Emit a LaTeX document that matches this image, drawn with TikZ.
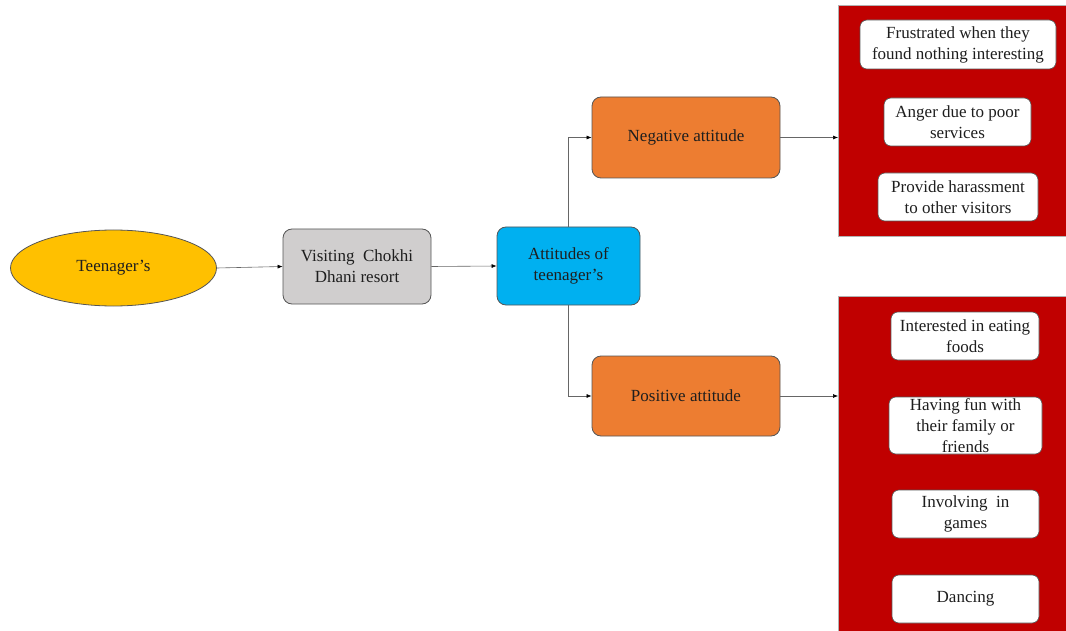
\documentclass[tikz,border=0pt]{standalone}
\usepackage{fontspec}
\setmainfont{Liberation Serif}
\usetikzlibrary{arrows.meta,shapes.geometric}
\definecolor{gold}{HTML}{FFC000}
\definecolor{greybox}{HTML}{D0CECE}
\definecolor{cyanbox}{HTML}{00B0F0}
\definecolor{orangebox}{HTML}{ED7D31}
\definecolor{darkred}{HTML}{C00000}
\definecolor{edge}{HTML}{555555}
\definecolor{txt}{HTML}{1E1E1E}
\begin{document}
\begin{tikzpicture}[x=1pt,y=-1pt,
  every node/.style={font=\fontsize{17}{21}\selectfont, text=txt, align=center, inner sep=0pt},
  rbox/.style={draw=edge, line width=0.8pt, rounded corners=9pt, minimum width=#1},
  wbox/.style={draw=edge, fill=white, line width=0.6pt, rounded corners=7pt},
  conn/.style={draw=gray!80!black, line width=0.6pt, -{Latex[length=5pt,width=4pt,color=black]}}
]
\useasboundingbox (0,0) rectangle (1066,631);
% red panels
\node[fill=darkred, draw=gray!60, line width=0.5pt, minimum width=228pt, minimum height=231pt, anchor=north west] (p1) at (838,5) {};
\node[fill=darkred, draw=gray!60, line width=0.5pt, minimum width=230pt, minimum height=340pt, anchor=north west] (p2) at (838,296) {};
% main nodes
\node[ellipse, draw=edge, fill=gold, line width=0.8pt, minimum width=206pt, minimum height=76pt] (teen) at (113.5,268) {Teenager's};
\node[rbox=148pt, fill=greybox, minimum height=75pt] (visit) at (357,266.5) {Visiting\ \ Chokhi\\Dhani resort};
\node[rbox=143pt, fill=cyanbox, minimum height=78pt] (att) at (568.5,266) {Attitudes of\\teenager's};
\node[rbox=188pt, fill=orangebox, minimum height=81pt] (neg) at (686,137.5) {Negative attitude};
\node[rbox=188pt, fill=orangebox, minimum height=80pt] (pos) at (686,396) {Positive attitude};
% white boxes
\node[wbox, minimum width=196pt, minimum height=49pt] (n1) at (958,44.5) {Frustrated when they\\found nothing interesting};
\node[wbox, minimum width=147pt, minimum height=48pt] (n2) at (957.5,122) {Anger due to poor\\services};
\node[wbox, minimum width=160pt, minimum height=48pt] (n3) at (958,197) {Provide harassment\\to other visitors};
\node[wbox, minimum width=148pt, minimum height=48pt] (q1) at (965,336) {Interested in eating\\foods};
\node[wbox, minimum width=153pt, minimum height=57pt] (q2) at (965.5,425.5) {Having fun with\\their family or\\friends};
\node[wbox, minimum width=147pt, minimum height=48pt] (q3) at (965.5,514) {Involving\ \ in\\games};
\node[wbox, minimum width=147pt, minimum height=48pt] (q4) at (965.5,599) {Dancing};
% connectors
\draw[conn] (teen.east) -- (visit.west);
\draw[conn] (visit.east) -- (att.west);
\draw[conn] (att.north) |- (neg.west);
\draw[conn] (att.south) |- (pos.west);
\draw[conn] (neg.east) -- (neg.east -| p1.west);
\draw[conn] (pos.east) -- (pos.east -| p2.west);
\end{tikzpicture}
\end{document}
